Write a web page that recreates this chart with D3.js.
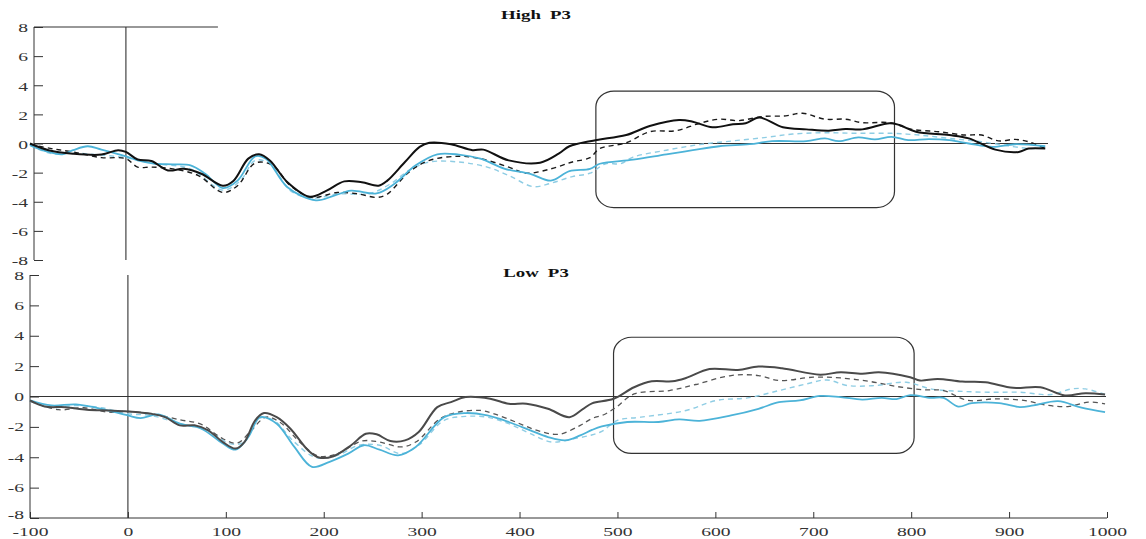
<!DOCTYPE html>
<html>
<head>
<meta charset="utf-8">
<script src="https://cdn.jsdelivr.net/npm/d3@7"></script>
<style>
  body { margin: 0; background: #fff; }
  svg { display: block; }
  .tick text { font-family: "Liberation Serif", serif; font-size: 13.5px; fill: #333; }
  .domain, .tick line { stroke: #333; }
</style>
</head>
<body>
<svg width="1146" height="539"></svg>
<script>
// time (ms) / amplitude (uV) pairs
var highBlack = [[-98,0],[-79,-0.46],[-54,-0.7],[-25,-0.76],[-8,-0.46],[0,-0.58],[12,-1.1],[26,-1.2],[43,-1.85],[59,-1.74],[77,-2.08],[99,-2.9],[110,-2.55],[125,-1.04],[136,-0.74],[147,-1.16],[165,-2.66],[188,-3.66],[205,-3.24],[223,-2.6],[241,-2.66],[258,-2.9],[267,-2.55],[285,-1.27],[300,-0.23],[310,0.05],[332,-0.05],[354,-0.46],[365,-0.42],[391,-1.16],[423,-1.32],[442,-0.7],[453,-0.19],[474,0.16],[484,0.28],[511,0.58],[535,1.2],[565,1.62],[579,1.5],[599,1.11],[620,1.32],[633,1.39],[647,1.78],[671,1.11],[695,0.97],[718,0.88],[735,0.99],[752,0.97],[780,1.39],[790,1.27],[807,0.81],[841,0.58],[861,0.35],[888,-0.42],[912,-0.58],[922,-0.35],[939,-0.35]];
var highBlackDash = [[-98,-0.05],[-76,-0.35],[-54,-0.58],[-25,-0.97],[0,-1.04],[12,-1.62],[26,-1.62],[48,-1.74],[74,-2.2],[99,-3.36],[114,-2.9],[132,-1.34],[150,-1.5],[168,-2.9],[190,-3.7],[216,-3.36],[238,-3.47],[256,-3.7],[267,-3.47],[289,-1.97],[310,-1.16],[340,-0.88],[362,-1.04],[391,-1.62],[409,-2.04],[434,-1.74],[456,-1.27],[474,-0.97],[484,-0.35],[511,0.05],[535,0.81],[562,0.88],[586,1.39],[606,1.67],[626,1.57],[650,1.85],[674,1.9],[691,2.08],[714,1.67],[735,1.67],[752,1.43],[780,1.43],[803,0.97],[830,0.81],[857,0.58],[874,0.58],[891,0.18],[908,0.28],[922,0.12],[939,-0.35]];
var highBlue = [[-98,-0.12],[-83,-0.5],[-65,-0.74],[-54,-0.46],[-39,-0.19],[-25,-0.42],[0,-0.88],[12,-1.16],[30,-1.39],[48,-1.43],[66,-1.5],[81,-2.08],[99,-3.06],[114,-2.55],[132,-0.88],[143,-1.04],[165,-3.0],[194,-3.9],[212,-3.6],[230,-3.24],[256,-3.43],[274,-2.78],[296,-1.5],[318,-0.74],[340,-0.76],[362,-1.04],[387,-1.74],[413,-2.08],[434,-2.55],[453,-1.9],[474,-1.74],[484,-1.39],[518,-1.11],[552,-0.74],[579,-0.46],[606,-0.19],[637,-0.05],[660,0.16],[695,0.16],[714,0.35],[728,0.16],[748,0.42],[765,0.28],[782,0.46],[799,0.23],[820,0.3],[841,0.23],[861,0.0],[885,-0.23],[908,-0.05],[939,-0.19]];
var highBlueDash = [[-98,-0.12],[-76,-0.7],[-54,-0.65],[-25,-0.8],[0,-0.97],[30,-1.39],[66,-1.74],[99,-3.2],[117,-2.55],[132,-1.16],[147,-1.39],[168,-3.24],[190,-3.75],[216,-3.47],[249,-3.43],[270,-2.78],[289,-1.85],[310,-1.27],[340,-1.27],[369,-1.62],[391,-2.2],[416,-2.96],[434,-2.73],[456,-2.27],[474,-2.04],[490,-1.39],[505,-1.39],[518,-0.93],[552,-0.46],[586,-0.07],[620,0.18],[654,0.42],[681,0.65],[714,0.74],[748,0.7],[782,0.7],[810,0.58],[841,0.35],[874,0.12],[908,-0.23],[925,-0.35],[939,-0.23]];

var lowBlack = [[-100,-0.26],[-85,-0.66],[-64,-0.7],[-42,-0.87],[-20,-0.92],[0,-0.98],[24,-1.14],[38,-1.36],[53,-1.9],[68,-1.9],[82,-2.23],[97,-3.0],[110,-3.43],[119,-3.0],[130,-1.57],[139,-1.09],[152,-1.36],[166,-2.12],[184,-3.54],[195,-4.02],[210,-3.93],[228,-3.21],[243,-2.45],[254,-2.49],[268,-2.93],[283,-2.89],[297,-2.34],[316,-0.7],[330,-0.37],[345,-0.04],[370,-0.15],[389,-0.48],[407,-0.48],[429,-0.81],[451,-1.36],[465,-0.81],[474,-0.45],[496,-0.15],[517,0.61],[535,1.0],[556,1.0],[570,1.22],[594,1.81],[623,1.75],[644,1.97],[668,1.86],[707,1.44],[728,1.6],[750,1.49],[767,1.6],[799,1.27],[809,1.05],[827,1.16],[852,0.98],[876,0.94],[904,0.57],[932,0.61],[957,0.07],[978,0.22],[998,0.13]];
var lowBlackDash = [[-100,-0.3],[-71,-0.87],[-45,-0.74],[-20,-1.03],[0,-0.98],[24,-1.14],[53,-1.53],[75,-1.84],[97,-2.78],[112,-3.06],[126,-2.23],[141,-1.36],[155,-1.68],[177,-3.1],[195,-3.93],[214,-3.76],[239,-2.93],[257,-3.0],[279,-3.32],[294,-3.0],[319,-1.46],[337,-1.03],[360,-0.92],[374,-1.14],[396,-1.68],[418,-2.23],[440,-2.49],[462,-1.9],[474,-1.45],[486,-1.2],[498,-0.74],[517,0.17],[553,0.39],[580,0.79],[616,1.38],[644,1.38],[665,1.05],[700,1.27],[728,1.22],[757,1.0],[785,0.66],[813,0.44],[833,0.39],[858,-0.26],[886,-0.15],[915,-0.26],[940,-0.59],[960,-0.66],[981,-0.37],[998,-0.48]];
var lowBlue = [[-100,-0.26],[-78,-0.59],[-53,-0.52],[-27,-0.81],[0,-1.25],[13,-1.42],[31,-1.18],[53,-1.79],[75,-2.12],[97,-3.1],[110,-3.5],[123,-2.67],[135,-1.36],[152,-1.79],[170,-3.32],[188,-4.63],[206,-4.3],[225,-3.76],[241,-3.21],[257,-3.5],[276,-3.87],[294,-3.32],[323,-1.36],[345,-1.09],[367,-1.25],[389,-1.68],[411,-2.23],[429,-2.67],[447,-2.89],[462,-2.56],[474,-2.2],[484,-1.97],[510,-1.68],[542,-1.68],[563,-1.51],[584,-1.6],[616,-1.25],[644,-0.81],[665,-0.37],[686,-0.26],[707,0.04],[728,-0.04],[750,-0.2],[770,-0.09],[785,-0.17],[799,0.09],[820,-0.09],[833,-0.09],[848,-0.66],[862,-0.44],[890,-0.44],[911,-0.7],[925,-0.59],[950,-0.31],[974,-0.74],[998,-1.03]];
var lowBlueDash = [[-100,-0.3],[-78,-0.74],[-53,-0.59],[-27,-0.74],[0,-1.14],[24,-1.25],[53,-1.79],[82,-2.23],[104,-3.1],[119,-3.0],[133,-1.46],[148,-1.53],[170,-3.0],[192,-4.02],[214,-3.87],[236,-3.21],[257,-3.21],[279,-3.76],[297,-3.21],[323,-1.57],[345,-1.31],[367,-1.36],[389,-1.79],[411,-2.45],[433,-3.0],[455,-2.78],[472,-2.56],[484,-2.3],[500,-1.57],[524,-1.36],[570,-0.92],[601,-0.26],[633,-0.09],[665,0.39],[693,0.83],[714,1.09],[735,0.72],[763,0.72],[795,0.94],[820,0.5],[848,0.35],[879,0.28],[911,0.28],[943,0.13],[964,0.5],[978,0.5],[998,0.13]];

var yTicks = [-8, -6, -4, -2, 0, 2, 4, 6, 8];
var xTicks = [-100, 0, 100, 200, 300, 400, 500, 600, 700, 800, 900, 1000];
var titles = ["High P3", "Low P3"];
var boxes = [[480, 785, 3.6, -4.4], [496, 803, 3.9, -3.75]];

var svg = d3.select("svg");
var stretch = 1.45;

var panels = [
    {x: d3.scaleLinear().domain([-100, 1000]).range([28, 1105]),
     y: d3.scaleLinear().domain([-8, 8]).range([260, 27]),
     axisX: 34, zeroEnd: 1048, title: titles[0], titleY: 19, box: boxes[0],
     series: [
        {d: highBlueDash, c: "#8fcde4", w: 1.4, dash: "5,4"},
        {d: highBlackDash, c: "#1a1a1a", w: 1.4, dash: "5,4"},
        {d: highBlue, c: "#4cb3d8", w: 1.8},
        {d: highBlack, c: "#111", w: 2}
     ]},
    {x: d3.scaleLinear().domain([-100, 1000]).range([30, 1107]),
     y: d3.scaleLinear().domain([-8, 8]).range([518, 275]),
     axisX: 30, zeroEnd: 1106, title: titles[1], titleY: 277, box: boxes[1],
     series: [
        {d: lowBlueDash, c: "#8fcde4", w: 1.4, dash: "5,4"},
        {d: lowBlackDash, c: "#555", w: 1.3, dash: "5,4"},
        {d: lowBlue, c: "#4cb3d8", w: 1.8},
        {d: lowBlack, c: "#4a4a4a", w: 2}
     ]}
];

panels.forEach(function (p, i) {
    var g = svg.append("g");
    var x = p.x, y = p.y;

    // y axis, ticks pointing inward
    var ya = g.append("g")
        .attr("transform", "translate(" + p.axisX + ",0)")
        .call(d3.axisLeft(y).tickValues(yTicks).tickSize(-9).tickPadding(0)
            .tickFormat(function (d) { return String(d); }));
    ya.selectAll(".tick text")
        .attr("x", -6 / stretch)
        .attr("dy", function (d) {
            if (i == 1 && d == -8) return "0.05em";
            return i == 1 ? "0.3em" : "0.36em";
        })
        .attr("transform", "scale(" + stretch + ",1)");
    ya.select(".domain").attr("d", "M0," + y(-8) + "V" + y(8));

    // zero line
    g.append("line")
        .attr("x1", p.axisX).attr("x2", p.zeroEnd)
        .attr("y1", y(0)).attr("y2", y(0))
        .attr("stroke", "#333").attr("stroke-width", 1.1);

    // stimulus onset line
    g.append("line")
        .attr("x1", x(0)).attr("x2", x(0))
        .attr("y1", y(8)).attr("y2", y(-8))
        .attr("stroke", "#333").attr("stroke-width", 1.1);

    if (i == 0) {
        g.append("line")
            .attr("x1", p.axisX).attr("x2", x(94))
            .attr("y1", y(8)).attr("y2", y(8))
            .attr("stroke", "#333").attr("stroke-width", 1.1);
    } else {
        var xa = g.append("g")
            .attr("transform", "translate(0," + y(-8) + ")")
            .call(d3.axisBottom(x).tickValues(xTicks).tickSize(-6).tickPadding(0)
                .tickFormat(function (d) { return String(d); }));
        xa.selectAll(".tick text")
            .attr("y", 8)
            .attr("dy", "0.71em")
            .attr("transform", "scale(" + stretch + ",1)");
        xa.select(".domain").attr("d", "M" + x(-100) + ",0H" + x(1000));
    }

    // highlight window
    var b = p.box;
    g.append("rect")
        .attr("x", x(b[0])).attr("y", y(b[2]))
        .attr("width", x(b[1]) - x(b[0]))
        .attr("height", y(b[3]) - y(b[2]))
        .attr("rx", 18).attr("ry", 16)
        .attr("fill", "none").attr("stroke", "#333").attr("stroke-width", 1.2);

    var line = d3.line()
        .x(function (d) { return x(d[0]); })
        .y(function (d) { return y(d[1]); })
        .curve(d3.curveCatmullRom.alpha(0.5));

    p.series.forEach(function (s) {
        g.append("path")
            .datum(s.d)
            .attr("d", line)
            .attr("fill", "none")
            .attr("stroke", s.c)
            .attr("stroke-width", s.w)
            .attr("stroke-dasharray", s.dash || null)
            .attr("stroke-linejoin", "round");
    });

    g.append("text")
        .attr("transform", "translate(536," + p.titleY + ") scale(" + stretch + ",1)")
        .attr("text-anchor", "middle")
        .style("font-family", "Liberation Serif, serif")
        .style("font-weight", "bold")
        .style("font-size", "13px")
        .style("word-spacing", "3px")
        .attr("fill", "#111")
        .text(p.title);
});
</script>
</body>
</html>
